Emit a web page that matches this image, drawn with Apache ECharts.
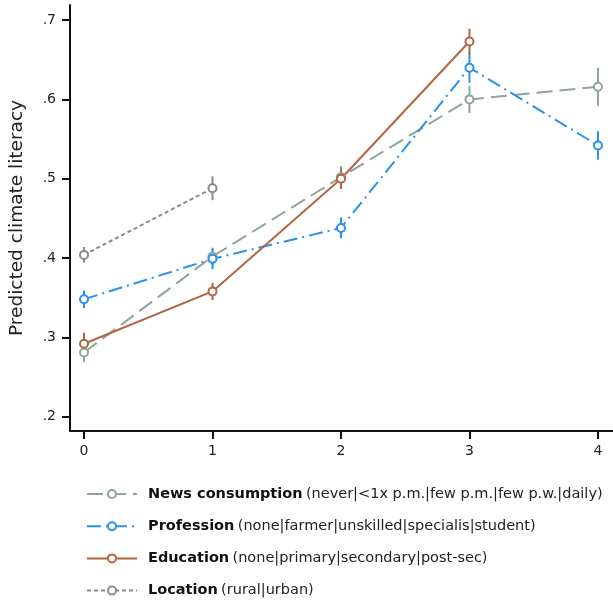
<!DOCTYPE html>
<html><head><meta charset="utf-8">
<script src="https://cdn.jsdelivr.net/npm/echarts@6/dist/echarts.min.js"></script>
<style>html,body{margin:0;padding:0;background:#fff}#c{width:613px;height:603px}</style>
</head><body><div id="c"></div>
<script>
const xCats = [0, 1, 2, 3, 4];
const yTicks = [0.2, 0.3, 0.4, 0.5, 0.6, 0.7];
const seriesNames = ['News consumption', 'Profession', 'Education', 'Location'];
const seriesDesc = ['(never|<1x p.m.|few p.m.|few p.w.|daily)', '(none|farmer|unskilled|specialis|student)', '(none|primary|secondary|post-sec)', '(rural|urban)'];
const newsMean = [0.281, 0.402, 0.502, 0.600, 0.616];
const newsErr  = [0.012, 0.011, 0.014, 0.017, 0.024];
const profMean = [0.348, 0.399, 0.438, 0.640, 0.542];
const profErr  = [0.011, 0.013, 0.013, 0.019, 0.018];
const eduMean  = [0.292, 0.358, 0.500, 0.673];
const eduErr   = [0.014, 0.011, 0.013, 0.016];
const locMean  = [0.404, 0.488];
const locErr   = [0.010, 0.015];

const colors = ['#8ea597', '#2a90ee', '#b4643f', '#8a8a8a'];
const dashes = [[16, 7], [14, 5, 2, 5], 'solid', [4, 3]];
const means = [newsMean, profMean, eduMean, locMean];
const errs = [newsErr, profErr, eduErr, locErr];

const series = [];
means.forEach((m, i) => {
  series.push({
    type: 'custom', silent: true, z: 2,
    data: m.map((v, k) => [xCats[k], v - errs[i][k], v + errs[i][k]]),
    encode: { x: 0, y: [1, 2] },
    renderItem: (params, api) => {
      const a = api.coord([api.value(0), api.value(1)]);
      const b = api.coord([api.value(0), api.value(2)]);
      return { type: 'line', shape: { x1: a[0], y1: a[1], x2: b[0], y2: b[1] }, style: { stroke: colors[i], lineWidth: 2 } };
    }
  });
});
means.forEach((m, i) => {
  series.push({
    name: seriesNames[i], type: 'line', z: 3,
    data: m.map((v, k) => [xCats[k], v]),
    symbol: 'emptyCircle', symbolSize: 8,
    itemStyle: { color: colors[i], borderWidth: 1.6 },
    lineStyle: { color: colors[i], width: 2, type: dashes[i] },
    color: colors[i]
  });
});

const chart = echarts.init(document.getElementById('c'));
chart.setOption({
  animation: false,
  grid: { left: 70, right: 0, top: 5, bottom: 172, containLabel: false },
  xAxis: {
    type: 'value', min: -0.109, max: 4.117,
    axisLine: { show: true, onZero: false, lineStyle: { color: '#111', width: 2 } },
    axisTick: { show: true, length: 8, lineStyle: { color: '#111', width: 2 }, customValues: xCats },
    axisLabel: { show: true, color: '#222', fontFamily: 'DejaVu Sans', fontSize: 14, margin: 13, customValues: xCats, formatter: v => String(v) },
    splitLine: { show: false }
  },
  yAxis: {
    type: 'value', min: 0.182, max: 0.719,
    name: 'Predicted climate literacy', nameLocation: 'middle', nameGap: 43, nameMoveOverlap: false,
    nameTextStyle: { color: '#222', fontFamily: 'DejaVu Sans', fontSize: 18.5 },
    axisLine: { show: true, onZero: false, lineStyle: { color: '#111', width: 2 } },
    axisTick: { show: true, length: 8, lineStyle: { color: '#111', width: 2 }, customValues: yTicks },
    axisLabel: { show: true, color: '#222', fontFamily: 'DejaVu Sans', fontSize: 14, margin: 14, customValues: yTicks,
      formatter: v => '.' + Math.round(v * 10) },
    splitLine: { show: false }
  },
  legend: {
    orient: 'vertical', left: 86, top: 485.5, itemGap: 15.2, padding: 0,
    itemWidth: 50, itemHeight: 10,
    data: seriesNames,
    formatter: name => '{b|' + name + '} {n|' + seriesDesc[seriesNames.indexOf(name)] + '}',
    textStyle: {
      padding: [0, 0, 0, 6],
      lineHeight: 17,
      rich: {
        b: { fontFamily: 'DejaVu Sans', fontWeight: 'bold', fontSize: 14.5, color: '#111', lineHeight: 17 },
        n: { fontFamily: 'DejaVu Sans', fontSize: 14.5, color: '#222', lineHeight: 17 }
      }
    }
  },
  series: series
});
</script></body></html>
